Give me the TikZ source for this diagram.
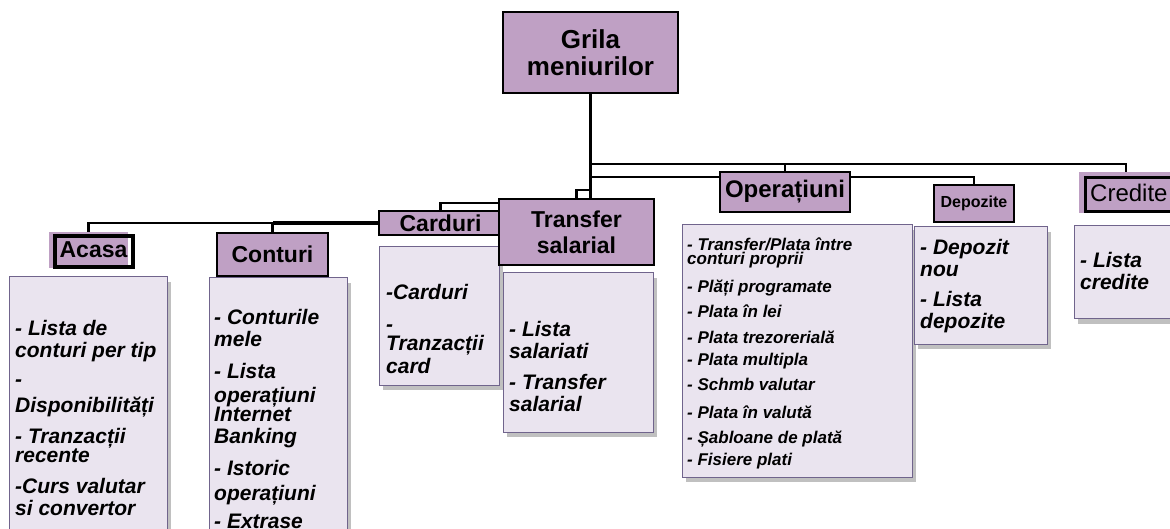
\documentclass[tikz,border=0pt]{standalone}
\usepackage{fontspec}
\setmainfont{Liberation Sans}
\usetikzlibrary{backgrounds,shadows}

\definecolor{headfill}{HTML}{BFA0C4}
\definecolor{boxfill}{HTML}{EAE4EF}
\definecolor{boxline}{HTML}{70648C}

\begin{document}
\begin{tikzpicture}[x=1pt, y=-1pt,
	menuhead/.style={draw=black, line width=2.5pt, fill=headfill, inner sep=0pt, align=center, font=\bfseries\fontsize{23}{26}\selectfont},
	menubox/.style={draw=boxline, line width=1pt, fill=boxfill, inner sep=0pt, drop shadow={shadow xshift=4pt, shadow yshift=-5pt, fill=black!55, opacity=0.45}},
	item/.style={anchor=base west, inner sep=0pt, font=\bfseries\itshape\fontsize{21}{25}\selectfont},
	small item/.style={item, font=\bfseries\itshape\fontsize{17}{20}\selectfont},
	link/.style={line width=2.5pt}]

\clip (0,0) rectangle (1170,529);

% Content boxes
\node[menubox, minimum width=158, minimum height=268] (acasabox) at (88,411) {};
\node[menubox, minimum width=138, minimum height=267] (conturibox) at (278,411.5) {};
\node[menubox, minimum width=120, minimum height=138] (carduribox) at (439,316) {};
\node[menubox, minimum width=150, minimum height=159] (transferbox) at (578,352.5) {};
\node[menubox, minimum width=230, minimum height=252] (operatiunibox) at (797,351) {};
\node[menubox, minimum width=133, minimum height=117] (depozitebox) at (980.5,285.5) {};
\node[menubox, minimum width=111, minimum height=93] (creditebox) at (1129.5,272.5) {};

% Menu headers
\node[menuhead, minimum width=175, minimum height=81, font=\bfseries\fontsize{26}{27}\selectfont] (root) at (590.5,52.5) {Grila\\meniurilor};
\node[menuhead, minimum width=111, minimum height=43] (conturi) at (272.5,254.5) {Conturi};
\node[menuhead, minimum width=123, minimum height=24] (carduri) at (440.5,223) {Carduri};
\node[menuhead, minimum width=155, minimum height=66] (transfer) at (576.5,232) {Transfer\\salarial};
\node[menuhead, minimum width=130, minimum height=40, font=\bfseries\fontsize{24}{26}\selectfont] (operatiuni) at (785,192) {Operațiuni};
\node[menuhead, minimum width=80, minimum height=37, font=\bfseries\fontsize{16}{18}\selectfont] (depozite) at (974,203.5) {Depozite};

% Headers with offset outline
\node[fill=headfill, minimum width=79, minimum height=36, inner sep=0pt, font=\bfseries\fontsize{23}{26}\selectfont] (acasa) at (88.5,250) {\hspace{10pt}Acasa};
\draw[line width=4pt] ([shift={(6.5,4)}]acasa.north west) rectangle ([shift={(4.5,-1)}]acasa.south east);
\node[fill=headfill, anchor=west, minimum height=41, inner xsep=11pt, inner ysep=0pt, font=\fontsize{24}{26}\selectfont] (credite) at (1079,192.5) {Credite};
\draw[line width=3.5pt] ([shift={(6.5,5.5)}]credite.north west) rectangle ([shift={(10,-1.5)}]credite.south east);

% Connectors
\begin{scope}[on background layer]
\draw[link, line width=3pt] (root.south) -- (root.south |- 0,223);
\draw[link] (root.south |- 0,164) -| (1126,0 |- credite.north);
\draw[link] (root.south |- 0,164) -| (operatiuni.north);
\draw[link] (root.south |- 0,177) -| (depozite.north);
\draw[link] (root.south |- 0,190) -| (transfer.north);
\draw[link] (root.south |- 0,203) -| (carduri.north);
\draw[link, line width=3.5pt] (root.south |- 0,223) -- (conturi.north |- 0,223);
\draw[link] (conturi.north |- 0,223) -- (conturi.north);
\draw[link] (conturi.north |- 0,223) -| (acasa.north);
\end{scope}

% Menu items
\foreach \y/\t in {335/{- Lista de}, 357/{conturi per tip}, 386/{-}, 412/{Disponibilități}, 443/{- Tranzacții}, 462/{recente}, 493/{-Curs valutar}, 515/{si convertor}}
	\node[item] (acasa\y) at (15,\y) {\t};
\foreach \y/\t in {324/{- Conturile}, 346/{mele}, 378/{- Lista}, 402/{operațiuni}, 421/{Internet}, 443/{Banking}, 475/{- Istoric}, 500/{operațiuni}, 528/{- Extrase}}
	\node[item] (conturi\y) at (214,\y) {\t};
\foreach \y/\t in {300/{-Carduri}, 331/{-}, 351/{Tranzacții}, 373/{card}}
	\node[item] (carduri\y) at (386,\y) {\t};
\foreach \y/\t in {337/{- Lista}, 359/{salariati}, 389/{- Transfer}, 411/{salarial}}
	\node[item] (transfer\y) at (509,\y) {\t};
\foreach \y/\t in {251/{- Transfer/Plata între}, 265/{conturi proprii}, 293/{- Plăți programate}, 318/{- Plata în lei}, 343/{- Plata trezorerială}, 365/{- Plata multipla}, 390/{- Schmb valutar}, 418/{- Plata în valută}, 443/{- Șabloane de plată}, 465/{- Fisiere plati}}
	\node[small item] (operatiuni\y) at (687,\y) {\t};
\foreach \y/\t in {255/{- Depozit}, 277/{nou}, 307/{- Lista}, 329/{depozite}}
	\node[item] (depozite\y) at (920,\y) {\t};
\foreach \y/\t in {268/{- Lista}, 290/{credite}}
	\node[item] (credite\y) at (1080,\y) {\t};

\end{tikzpicture}
\end{document}
